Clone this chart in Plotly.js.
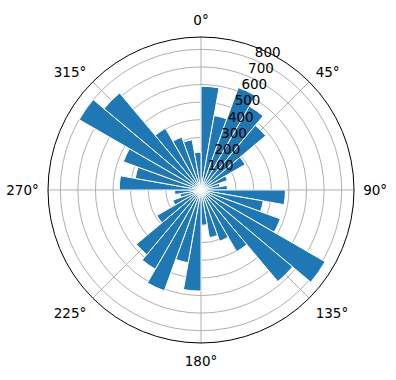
<!DOCTYPE html>
<html>
<head>
<meta charset="utf-8">
<script src="https://cdn.plot.ly/plotly-3.0.1.min.js"></script>
<style>
html,body{margin:0;padding:0;background:#fff;}
#chart{width:396px;height:380px;}
</style>
</head>
<body>
<div id="chart"></div>
<script>
// Direction bins (centre angle, degrees, compass: 0 = north, clockwise)
const binCenters = [5,15,25,35,45,55,65,75,85,95,105,115,125,135,145,155,165,175,
                    185,195,205,215,225,235,245,255,265,275,285,295,305,315,325,335,345,355];
// Bar lengths per bin
const counts = [590,430,620,550,480,290,160,110,150,480,360,480,815,680,405,310,275,200,
                575,420,610,520,480,290,170,120,150,465,380,470,800,720,405,320,290,215];
const binWidth = 10;
const radialTicks = [100,200,300,400,500,600,700,800];
const radialLabels = ['100','200','300','400','500','600','700','800'];
const radialLabelAngle = 22.5;
const angularTicks = [0,45,90,135,180,225,270,315];
const angularLabels = ['0°','45°','90°','135°','180°','225°','270°','315°'];

const bars = {
  type: 'barpolar',
  theta: binCenters,
  r: counts,
  width: binCenters.map(() => binWidth),
  marker: {color: '#1f77b4', line: {color: '#ffffff', width: 1}},
  opacity: 1,
  hoverinfo: 'skip'
};

// radial tick labels placed like matplotlib's (left/bottom aligned at 22.5°)
const rLabels = {
  type: 'scatterpolar',
  mode: 'text',
  r: radialTicks,
  theta: radialTicks.map(() => radialLabelAngle),
  text: radialLabels,
  textposition: 'top right',
  textfont: {family: 'DejaVu Sans', size: 13.5, color: '#000'},
  cliponaxis: false,
  hoverinfo: 'skip'
};

const layout = {
  width: 396, height: 380,
  margin: {l: 48, r: 42, t: 37, b: 37, pad: 0},
  paper_bgcolor: '#ffffff',
  showlegend: false,
  font: {family: 'DejaVu Sans', size: 13.5, color: '#000'},
  polar: {
    bgcolor: '#ffffff',
    domain: {x: [0, 1], y: [0, 1]},
    bargap: 0,
    angularaxis: {
      direction: 'clockwise',
      rotation: 90,
      tickmode: 'array',
      tickvals: angularTicks,
      ticktext: angularLabels,
      ticks: 'outside',
      ticklen: 6,
      tickcolor: 'rgba(0,0,0,0)',
      showline: true,
      linecolor: '#000000',
      linewidth: 1,
      showgrid: true,
      gridcolor: '#b0b0b0',
      gridwidth: 1,
      tickfont: {family: 'DejaVu Sans', size: 13.5, color: '#000'},
      layer: 'above traces'
    },
    radialaxis: {
      range: [0, 870],
      angle: 67.5,
      tickmode: 'array',
      tickvals: radialTicks,
      showticklabels: false,
      ticks: '',
      showline: false,
      showgrid: true,
      gridcolor: '#b0b0b0',
      gridwidth: 1,
      layer: 'above traces'
    }
  }
};

Plotly.newPlot('chart', [bars, rLabels], layout, {displayModeBar: false, staticPlot: true});
</script>
</body>
</html>
